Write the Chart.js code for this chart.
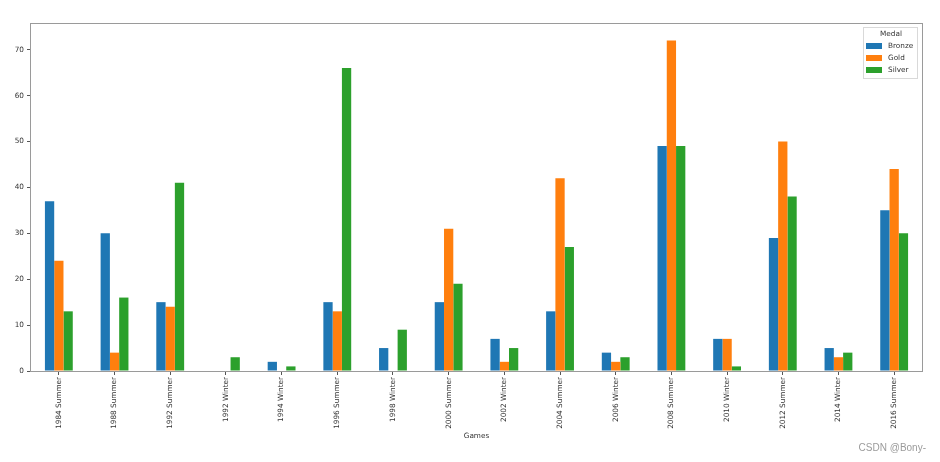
<!DOCTYPE html>
<html>
<head>
<meta charset="utf-8">
<script src="https://cdn.jsdelivr.net/npm/chart.js@4/dist/chart.umd.min.js"></script>
<style>
  html, body { margin: 0; padding: 0; background: #fff; }
  #wrap { position: relative; width: 940px; height: 462px; }
</style>
</head>
<body>
<div id="wrap"><canvas id="c" width="940" height="462"></canvas></div>
<script>
const categories = ['1984 Summer','1988 Summer','1992 Summer','1992 Winter','1994 Winter','1996 Summer','1998 Winter','2000 Summer','2002 Winter','2004 Summer','2006 Winter','2008 Summer','2010 Winter','2012 Summer','2014 Winter','2016 Summer'];
const bronze = [37, 30, 15, 0, 2, 15, 5, 15, 7, 13, 4, 49, 7, 29, 5, 35];
const gold   = [24, 4, 14, 0, 0, 13, 0, 31, 2, 42, 2, 72, 7, 50, 3, 44];
const silver = [13, 16, 41, 3, 1, 66, 9, 19, 5, 27, 3, 49, 1, 38, 4, 30];
const yTicks = [0, 10, 20, 30, 40, 50, 60, 70];

const FONT = 'DejaVu Sans';
const FS = 7.3;
const TXT = '#333';
const SPINE = '#9a9a9a';

const framePlugin = {
  id: 'frame',
  afterDraw(chart) {
    const {ctx, chartArea: a} = chart;
    ctx.save();
    ctx.strokeStyle = SPINE;
    ctx.lineWidth = 1;
    ctx.strokeRect(Math.round(a.left) - 0.5, Math.round(a.top) - 0.5,
                   Math.round(a.right - a.left) + 1, Math.round(a.bottom - a.top) + 1);
    // legend
    const bx = 863, by = 27, bw = 54, bh = 51;
    ctx.fillStyle = 'rgba(255,255,255,0.85)';
    ctx.strokeStyle = '#d9d9d9';
    ctx.fillRect(bx, by, bw, bh);
    ctx.strokeRect(bx + 0.5, by + 0.5, bw, bh);
    ctx.font = FS + 'px "' + FONT + '"';
    ctx.fillStyle = TXT;
    ctx.textBaseline = 'middle';
    ctx.textAlign = 'center';
    ctx.fillText('Medal', bx + bw / 2 + 1, 34.5);
    ctx.textAlign = 'left';
    const ys = [46, 58, 70];
    chart.data.datasets.forEach((ds, i) => {
      ctx.fillStyle = ds.backgroundColor;
      ctx.fillRect(866, ys[i] - 3, 16, 6);
      ctx.fillStyle = TXT;
      ctx.fillText(ds.label, 888, ys[i]);
    });
    // watermark
    ctx.font = '10px "Liberation Sans", Arial, sans-serif';
    ctx.fillStyle = '#9b9b9b';
    ctx.textAlign = 'right';
    ctx.fillText('CSDN @Bony-', 926, 448);
    ctx.restore();
  }
};

new Chart(document.getElementById('c'), {
  type: 'bar',
  data: {
    labels: categories,
    datasets: [
      { label: 'Bronze', data: bronze, backgroundColor: '#1f77b4' },
      { label: 'Gold',   data: gold,   backgroundColor: '#ff7f0e' },
      { label: 'Silver', data: silver, backgroundColor: '#2ca02c' }
    ]
  },
  options: {
    responsive: false,
    animation: false,
    devicePixelRatio: 1,
    layout: { padding: { left: 0, top: 24, right: 18, bottom: 22 } },
    datasets: { bar: { categoryPercentage: 0.5, barPercentage: 1.0, borderWidth: 0 } },
    plugins: { legend: { display: false }, tooltip: { enabled: false } },
    scales: {
      x: {
        offset: true,
        grid: { display: true, drawOnChartArea: false, drawTicks: true, tickLength: 4, color: '#555', offset: false },
        border: { display: false },
        ticks: { minRotation: 90, maxRotation: 90, autoSkip: false, padding: 2,
                 color: TXT, font: { family: FONT, size: FS } },
        title: { display: true, text: 'Games', color: TXT, padding: { top: 0, bottom: 0 },
                 font: { family: FONT, size: FS } },
        afterFit(s) { s.height = 69; }
      },
      y: {
        min: 0,
        max: 75.6,
        grid: { display: true, drawOnChartArea: false, drawTicks: true, tickLength: 4, color: '#555' },
        border: { display: false },
        ticks: {
          stepSize: 10, includeBounds: false, padding: 3, color: TXT,
          font: { family: FONT, size: FS },
          callback: (v) => yTicks.includes(v) ? String(v) : null
        },
        afterFit(s) { s.width = 31; }
      }
    }
  },
  plugins: [framePlugin]
});
</script>
</body>
</html>
